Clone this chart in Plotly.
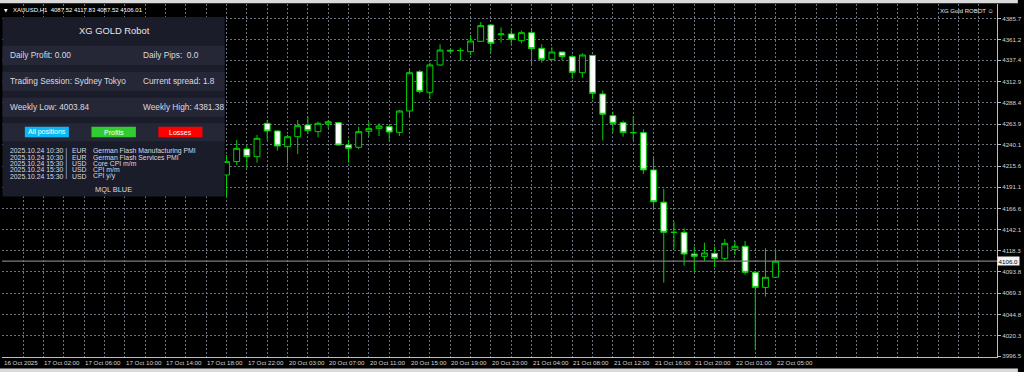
import plotly.graph_objects as go

# ---------------- data ----------------
bar_slot = list(range(22, 77))  # bar position on the time axis (H1 bars)
open_ = [4205.3, 4220.7, 4235.3, 4226.4, 4264.8, 4256.0, 4237.9, 4249.4, 4262.9, 4255.2,
         4264.0, 4265.6, 4239.8, 4237.2, 4255.6, 4259.0, 4261.0, 4254.4, 4279.0, 4324.3,
         4300.5, 4332.0, 4348.9, 4348.5, 4347.3, 4359.2, 4378.0, 4366.9, 4367.7, 4360.0,
         4369.2, 4351.2, 4338.5, 4346.9, 4341.6, 4323.1, 4343.1, 4298.6, 4273.6, 4265.6,
         4254.1, 4254.1, 4211.1, 4174.0, 4139.3, 4139.3, 4114.3, 4111.6, 4115.1, 4109.3,
         4119.7, 4123.2, 4093.2, 4075.9, 4087.52]
high_ = [4228.3, 4245.6, 4239.1, 4251.4, 4268.6, 4257.0, 4251.4, 4268.6, 4272.5, 4266.7,
         4268.6, 4266.5, 4245.6, 4261.0, 4266.7, 4264.8, 4262.9, 4280.2, 4328.1, 4326.2,
         4334.7, 4355.8, 4350.4, 4351.9, 4366.5, 4381.38, 4379.2, 4375.3, 4372.3, 4371.5,
         4374.2, 4355.8, 4352.3, 4347.3, 4343.5, 4345.4, 4343.5, 4302.4, 4278.2, 4267.9,
         4273.2, 4257.9, 4225.7, 4189.5, 4151.6, 4143.9, 4122.8, 4127.4, 4122.8, 4131.6,
         4129.3, 4129.3, 4094.0, 4120.9, 4117.83]
low_ = [4180.4, 4216.8, 4213.0, 4219.5, 4245.6, 4233.3, 4218.7, 4229.5, 4252.5, 4248.7,
        4259.0, 4239.0, 4219.5, 4234.9, 4250.2, 4250.2, 4244.8, 4250.2, 4271.7, 4299.3,
        4292.8, 4331.0, 4346.2, 4337.0, 4343.5, 4359.0, 4346.2, 4357.7, 4356.1, 4356.9,
        4333.1, 4334.7, 4337.0, 4337.0, 4316.2, 4317.4, 4292.8, 4244.8, 4254.1, 4249.4,
        4245.6, 4206.5, 4166.9, 4081.3, 4120.1, 4100.9, 4094.0, 4106.3, 4099.0, 4106.3,
        4113.2, 4090.5, 4003.84, 4065.2, 4087.52]
close_ = [4220.7, 4236.0, 4226.4, 4247.5, 4256.0, 4238.7, 4249.4, 4262.1, 4256.4, 4264.8,
          4266.7, 4239.8, 4236.0, 4255.2, 4258.7, 4261.7, 4254.8, 4279.0, 4323.1, 4301.3,
          4332.0, 4349.2, 4348.1, 4348.7, 4359.6, 4377.3, 4356.9, 4367.7, 4361.5, 4369.2,
          4350.8, 4338.5, 4346.9, 4341.6, 4323.5, 4343.5, 4299.3, 4275.2, 4264.8, 4254.1,
          4254.0, 4211.1, 4174.5, 4139.3, 4139.2, 4114.3, 4111.6, 4115.5, 4109.3, 4126.6,
          4123.2, 4093.2, 4075.9, 4087.5, 4106.01]

time_tick_slots = [0, 4, 8, 12, 16, 20, 24, 28, 32, 36, 40, 44, 48, 52, 56, 60, 64, 68, 72, 76]
time_tick_labels = ["16 Oct 2025", "17 Oct 02:00", "17 Oct 06:00", "17 Oct 10:00", "17 Oct 14:00",
                    "17 Oct 18:00", "17 Oct 22:00", "20 Oct 03:00", "20 Oct 07:00", "20 Oct 11:00",
                    "20 Oct 15:00", "20 Oct 19:00", "20 Oct 23:00", "21 Oct 04:00", "21 Oct 08:00",
                    "21 Oct 12:00", "21 Oct 16:00", "21 Oct 20:00", "22 Oct 01:00", "22 Oct 05:00"]
price_ticks = [4385.7, 4361.2, 4337.4, 4312.9, 4288.4, 4263.9, 4240.1, 4215.6, 4191.1,
               4166.6, 4142.1, 4118.3, 4093.8, 4069.3, 4044.8, 4020.3, 3996.5]
current_price = 4106.01
current_label = "4106.0"
header_text = "XAUUSD,H1  4087.52 4117.83 4087.52 4106.01"
robot_label = "XG Gold ROBOT \u263A"

panel_title = "XG GOLD Robot"
panel_left = ["Daily Profit: 0.00", "Trading Session: Sydney Tokyo", "Weekly Low: 4003.84"]
panel_right = ["Daily Pips:\u00a0\u00a00.0", "Current spread: 1.8", "Weekly High: 4381.38"]
buttons = ["All positions", "Profits", "Losses"]
news_dates = ["2025.10.24 10:30", "2025.10.24 10:30", "2025.10.24 15:30", "2025.10.24 15:30", "2025.10.24 15:30"]
news_ccy = ["EUR", "EUR", "USD", "USD", "USD"]
news_events = ["German Flash Manufacturing PMI", "German Flash Services PMI", "Core CPI m/m", "CPI m/m", "CPI y/y"]
panel_footer = "MQL BLUE"

# ---------------- layout geometry (pixels) ----------------
W, H = 1024, 372
L, R, T, B = 2, 1003, 4, 357
BAR_PX = 10.23
X0_PX = 2.8
x_range = [(L - X0_PX) / BAR_PX, (R - X0_PX) / BAR_PX]
y_range = [3995.7, 4402.2]


def fx(px):
    return (px - L) / (R - L)


def fy(py):
    return (B - py) / (B - T)


FONT = "Liberation Sans, Arial, sans-serif"
GREEN = "#00d200"

fig = go.Figure()
fig.add_trace(go.Candlestick(
    x=bar_slot, open=open_, high=high_, low=low_, close=close_,
    increasing=dict(fillcolor="#000000", line=dict(color=GREEN, width=1)),
    decreasing=dict(fillcolor="#ffffff", line=dict(color=GREEN, width=1)),
    whiskerwidth=0, hoverinfo="skip", showlegend=False,
))

shapes = []
annotations = []

# window strips
shapes.append(dict(type="rect", xref="paper", yref="paper", x0=fx(0), x1=fx(W), y0=fy(0), y1=fy(3.3),
                   fillcolor="#dadada", line=dict(width=0), layer="above"))
shapes.append(dict(type="rect", xref="paper", yref="paper", x0=fx(0), x1=fx(W), y0=fy(368.5), y1=fy(H),
                   fillcolor="#dadada", line=dict(width=0), layer="above"))

# current price line
shapes.append(dict(type="line", xref="paper", yref="y", x0=0, x1=1, y0=current_price, y1=current_price,
                   line=dict(color="#7c7c7c", width=1.2), layer="above"))

# panel
PANEL_DARK = "#1b1c2a"
PANEL_ROW = "#262736"
shapes.append(dict(type="rect", xref="paper", yref="paper", x0=fx(2.5), x1=fx(226), y0=fy(196.5), y1=fy(17),
                   fillcolor=PANEL_DARK, line=dict(width=0), layer="above"))
for (a, b) in [(46, 65), (71.7, 90.7), (97.7, 116.7), (123.3, 141.3)]:
    shapes.append(dict(type="rect", xref="paper", yref="paper", x0=fx(2.5), x1=fx(226), y0=fy(b), y1=fy(a),
                       fillcolor=PANEL_ROW, line=dict(width=0), layer="above"))
btn_geom = [(25, 69.3, "#0ab8f7"), (92, 136.7, "#30cc30"), (159.3, 203.7, "#ff0000")]
for (a, b, c), label in zip(btn_geom, buttons):
    shapes.append(dict(type="rect", xref="paper", yref="paper", x0=fx(a), x1=fx(b), y0=fy(137.3), y1=fy(126.7),
                       fillcolor=c, line=dict(width=0), layer="above"))
    annotations.append(dict(xref="paper", yref="paper", x=fx((a + b) / 2), y=fy(132.2), text=label,
                            showarrow=False, xanchor="center", yanchor="middle", borderpad=0,
                            font=dict(family=FONT, size=7, color="#ffffff")))
shapes.append(dict(type="line", xref="paper", yref="paper", x0=fx(66.7), x1=fx(66.7), y0=fy(179), y1=fy(148),
                   line=dict(color="#7d8aa6", width=1), layer="above"))

TXT = "#dadae0"
annotations.append(dict(xref="paper", yref="paper", x=fx(115), y=fy(30.5), text=panel_title, showarrow=False,
                        xanchor="center", yanchor="middle", borderpad=0,
                        font=dict(family=FONT, size=9.4, color="#e6e6ea")))
for i, yy in enumerate([55.5, 81.2, 107.2]):
    annotations.append(dict(xref="paper", yref="paper", x=fx(9), y=fy(yy), text=panel_left[i], showarrow=False,
                            xanchor="left", yanchor="middle", borderpad=0,
                            font=dict(family=FONT, size=8.3, color=TXT)))
    annotations.append(dict(xref="paper", yref="paper", x=fx(143.3), y=fy(yy), text=panel_right[i], showarrow=False,
                            xanchor="left", yanchor="middle", borderpad=0,
                            font=dict(family=FONT, size=8.3, color=TXT)))
for i, yy in enumerate([150.7, 157.0, 163.4, 169.8, 176.2]):
    for xx, txt in [(9, news_dates[i]), (71.7, news_ccy[i]), (92.3, news_events[i])]:
        annotations.append(dict(xref="paper", yref="paper", x=fx(xx), y=fy(yy), text=txt, showarrow=False,
                                xanchor="left", yanchor="middle", borderpad=0,
                                font=dict(family=FONT, size=6.85, color=TXT)))
annotations.append(dict(xref="paper", yref="paper", x=fx(114.5), y=fy(189.3), text=panel_footer, showarrow=False,
                        xanchor="center", yanchor="middle", borderpad=0,
                        font=dict(family=FONT, size=7.4, color=TXT)))

# header + robot label
annotations.append(dict(xref="paper", yref="paper", x=fx(3.5), y=fy(10.2), text="\u25BC", showarrow=False,
                        xanchor="left", yanchor="middle", borderpad=0,
                        font=dict(family="DejaVu Sans", size=4.5, color="#ffffff")))
annotations.append(dict(xref="paper", yref="paper", x=fx(11.7), y=fy(10.2), text=header_text, showarrow=False,
                        xanchor="left", yanchor="middle", borderpad=0,
                        font=dict(family=FONT, size=6.0, color="#ffffff")))
annotations.append(dict(xref="paper", yref="paper", x=fx(1000.5), y=fy(10.7), text=robot_label, showarrow=False,
                        xanchor="right", yanchor="middle", borderpad=0,
                        font=dict(family=FONT, size=6.0, color="#e8e8e8")))

# time labels
for s, lab in zip(time_tick_slots, time_tick_labels):
    annotations.append(dict(xref="x", yref="paper", x=s, y=fy(362.3), text=lab, showarrow=False,
                            xanchor="left", yanchor="middle", borderpad=0,
                            font=dict(family=FONT, size=6.2, color="#d4d4d4")))

# current price label
annotations.append(dict(xref="paper", yref="y", x=fx(1003.5), y=current_price, text=current_label,
                        showarrow=False, xanchor="left", yanchor="middle", borderpad=0.6,
                        bgcolor="#f2f2f2", font=dict(family=FONT, size=6.2, color="#000000")))

GRID = "#6a737e"
fig.update_layout(
    width=W, height=H,
    margin=dict(l=L, r=W - R, t=T, b=H - B, pad=0),
    paper_bgcolor="#000000", plot_bgcolor="#000000",
    showlegend=False,
    boxgap=0.42, boxgroupgap=0,
    shapes=shapes, annotations=annotations,
    xaxis=dict(range=x_range, tickmode="linear", tick0=0, dtick=2, showticklabels=False,
               showgrid=True, gridcolor=GRID, griddash="2px,2px", gridwidth=1, zeroline=False,
               showline=True, linecolor="#bdbdbd", linewidth=1, ticks="",
               rangeslider=dict(visible=False), fixedrange=True),
    yaxis=dict(range=y_range, side="right", tickmode="array", tickvals=price_ticks,
               ticktext=[f"{v:.1f}" for v in price_ticks],
               tickfont=dict(family=FONT, size=6.2, color="#d4d4d4"),
               ticks="outside", ticklen=3, tickcolor="#bdbdbd", tickwidth=1,
               showgrid=True, gridcolor=GRID, griddash="2px,2px", gridwidth=1, zeroline=False,
               showline=True, linecolor="#bdbdbd", linewidth=1, fixedrange=True),
)

fig.write_html("out.html")
